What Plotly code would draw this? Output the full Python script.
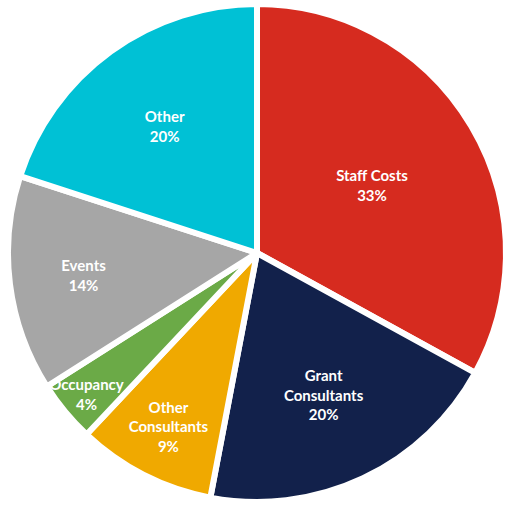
import plotly.graph_objects as go

categories = ["Staff Costs", "Grant<br>Consultants", "Other<br>Consultants", "Occupancy", "Events", "Other"]
values = [33, 20, 9, 4, 14, 20]
colors = ["#D62B1F", "#12214B", "#F0A900", "#6BAA47", "#A6A6A6", "#00C1D5"]

fig = go.Figure(go.Pie(
    labels=categories,
    values=values,
    sort=False,
    direction="clockwise",
    rotation=0,
    marker=dict(colors=colors, line=dict(color="white", width=6)),
    texttemplate="%{label}<br>%{percent:.0%}",
    textposition="inside",
    insidetextorientation="horizontal",
    textfont=dict(family="Lato", size=15, color="white", weight="bold"),
    hoverinfo="label+percent",
    showlegend=False,
))
fig.update_layout(
    width=511, height=505,
    margin=dict(l=8, r=5, t=4, b=3),
    paper_bgcolor="white",
    uniformtext=dict(minsize=15, mode="show"),
)
fig.write_html("out.html")
